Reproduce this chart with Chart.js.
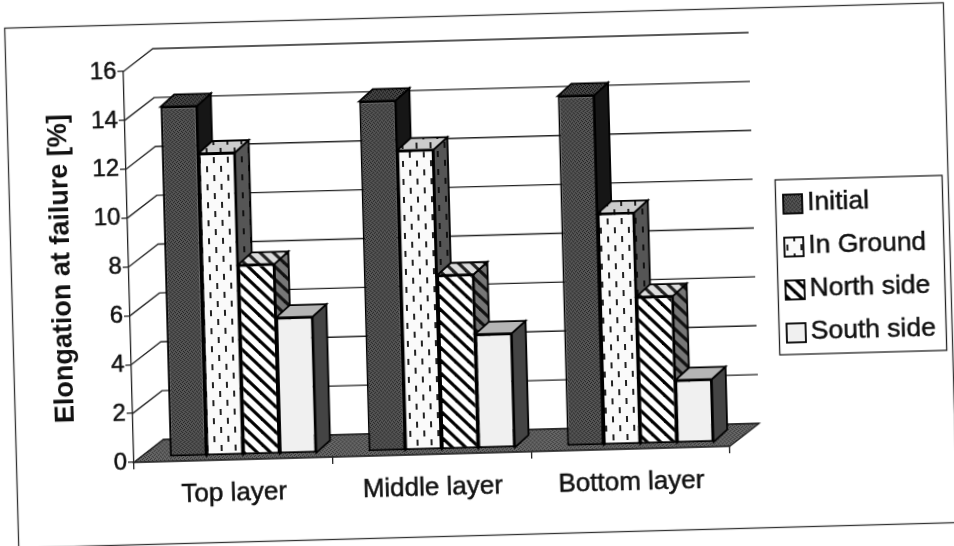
<!DOCTYPE html>
<html>
<head>
<meta charset="utf-8">
<title>Elongation at failure</title>
<script src="https://cdn.jsdelivr.net/npm/chart.js@4/dist/chart.umd.min.js"></script>
<style>
	html, body { margin: 0; background: #fff; overflow: hidden; }
	#wrap { width: 954px; height: 546px; transform: rotate(-1.55deg); transform-origin: 477px 273px; }
</style>
</head>
<body>
<div id="wrap"><canvas id="chart" width="954" height="546"></canvas></div>
<script>
const categories = ["Top layer", "Middle layer", "Bottom layer"];
const seriesNames = ["Initial", "In Ground", "North side", "South side"];
const initial = [14.35, 14.35, 14.35];
const inGround = [12.4, 12.3, 9.5];
const northSide = [7.8, 7.15, 6.05];
const southSide = [5.6, 4.7, 2.6];
const yMax = 16;
const yStep = 2;

const FONT = "'Liberation Sans', Arial, sans-serif";
const INK = "#111";
const FLOOR = { dx: 30, dy: -22 }; // depth of the floor and back wall
const BAR = { dx: 14, dy: -12, sx: 10, sy: -4 }; // bar depth and set-back from the front edge

// small tiles for the scanned fill patterns
function tile(w, h, paint) {
	const c = document.createElement("canvas");
	c.width = w;
	c.height = h;
	const g = c.getContext("2d");
	paint(g);
	return document.createElement("canvas").getContext("2d").createPattern(c, "repeat");
}

function dither(a, b) {
	return tile(4, 4, (g) => {
		g.fillStyle = a;
		g.fillRect(0, 0, 4, 4);
		g.fillStyle = b;
		[[0, 0], [2, 1], [1, 2], [3, 3]].forEach((p) => g.fillRect(p[0], p[1], 1, 1));
	});
}

function dashes(bg, ink) {
	return tile(14, 18, (g) => {
		g.fillStyle = bg;
		g.fillRect(0, 0, 14, 18);
		g.fillStyle = ink;
		g.fillRect(3, 1, 2, 6);
		g.fillRect(10, 10, 2, 6);
	});
}

function stripes(bg, ink) {
	return tile(13, 13, (g) => {
		g.fillStyle = bg;
		g.fillRect(0, 0, 13, 13);
		g.strokeStyle = ink;
		g.lineWidth = 3.2;
		for (let i = -13; i <= 13; i += 13) {
			g.beginPath();
			g.moveTo(i - 2, -2);
			g.lineTo(i + 15, 15);
			g.stroke();
		}
	});
}

const fronts = [dither("#555", "#222"), dashes("#fafafa", "#222"), stripes("#fff", "#000"), "#f0f0f0"];
const sides = ["#161616", dashes("#555", "#111"), stripes("#777", "#111"), "#444"];
const tops = [dither("#444", "#111"), dashes("#ccc", "#222"), stripes("#ddd", "#222"), "#b5b5b5"];
const floorFill = dither("#666", "#333");

function quad(ctx, pts, fill) {
	ctx.beginPath();
	pts.forEach((p, i) => (i ? ctx.lineTo(p[0], p[1]) : ctx.moveTo(p[0], p[1])));
	ctx.closePath();
	ctx.fillStyle = fill;
	ctx.fill();
	ctx.stroke();
}

const scene3d = {
	id: "scene3d",
	beforeDraw(chart) {
		// page frame
		const ctx = chart.ctx;
		ctx.save();
		ctx.strokeStyle = "#333";
		ctx.lineWidth = 1.3;
		ctx.strokeRect(11.5, 15.5, 939, 520);
		ctx.restore();
	},
	beforeDatasetsDraw(chart) {
		const ctx = chart.ctx;
		const { left, right, bottom } = chart.chartArea;
		const y = chart.scales.y;
		ctx.save();
		ctx.strokeStyle = "#222";
		ctx.lineWidth = 1.3;
		// side and back wall gridlines
		y.ticks.forEach((t) => {
			const py = y.getPixelForValue(t.value);
			ctx.beginPath();
			ctx.moveTo(left, py);
			ctx.lineTo(left + FLOOR.dx, py + FLOOR.dy);
			ctx.lineTo(right + FLOOR.dx, py + FLOOR.dy);
			ctx.stroke();
		});
		quad(ctx, [
			[left, bottom],
			[right, bottom],
			[right + FLOOR.dx, bottom + FLOOR.dy],
			[left + FLOOR.dx, bottom + FLOOR.dy],
		], floorFill);
		ctx.translate(BAR.sx, BAR.sy);
		// paint left to right so each bar's front covers the side of the one before it
		chart.data.datasets.forEach((ds, i) => {
			const meta = chart.getDatasetMeta(i);
			ctx.strokeStyle = "#000";
			ctx.lineWidth = 1.8;
			meta.data.forEach((bar) => {
				const l = bar.x - bar.width / 2;
				const r = bar.x + bar.width / 2;
				quad(ctx, [
					[r, bar.y],
					[r + BAR.dx, bar.y + BAR.dy],
					[r + BAR.dx, bar.base + BAR.dy],
					[r, bar.base],
				], sides[i]);
				quad(ctx, [
					[l, bar.y],
					[l + BAR.dx, bar.y + BAR.dy],
					[r + BAR.dx, bar.y + BAR.dy],
					[r, bar.y],
				], tops[i]);
			});
			meta.controller.draw();
		});
		ctx.restore();
		return false;
	},
	afterDraw(chart) {
		// legend box
		const ctx = chart.ctx;
		ctx.save();
		ctx.strokeStyle = "#222";
		ctx.lineWidth = 1.3;
		ctx.fillStyle = "#fff";
		ctx.fillRect(777.5, 188, 167, 175);
		ctx.strokeRect(777.5, 188, 167, 175);
		ctx.font = "26.5px " + FONT;
		ctx.textBaseline = "middle";
		chart.data.datasets.forEach((ds, i) => {
			const rowY = 212 + i * 43;
			ctx.fillStyle = ds.backgroundColor;
			ctx.strokeStyle = "#000";
			ctx.lineWidth = 1.8;
			ctx.fillRect(785, rowY - 9, 19, 19);
			ctx.strokeRect(785, rowY - 9, 19, 19);
			ctx.fillStyle = INK;
			ctx.strokeStyle = INK;
			ctx.lineWidth = 0.5;
			ctx.fillText(ds.label, 809, rowY);
			ctx.strokeText(ds.label, 809, rowY);
		});
		ctx.restore();
	},
};

const seriesValues = [initial, inGround, northSide, southSide];

new Chart(document.getElementById("chart"), {
	type: "bar",
	data: {
		labels: categories,
		datasets: seriesNames.map((name, i) => ({
			label: name,
			data: seriesValues[i],
			backgroundColor: fronts[i],
			borderColor: "#000",
			borderWidth: 2,
			borderSkipped: false,
			barPercentage: 1,
			categoryPercentage: 0.737,
		})),
	},
	options: {
		responsive: false,
		animation: false,
		layout: { padding: { left: 0, top: 62, right: 229, bottom: 0 } },
		plugins: {
			legend: { display: false },
			tooltip: { enabled: false },
		},
		scales: {
			x: {
				afterFit(scale) {
					scale.height = 93;
				},
				grid: { drawOnChartArea: false, color: "#222", tickLength: 7, lineWidth: 1.3 },
				border: { color: "#222", width: 1.3 },
				ticks: {
					color: INK,
					padding: 11,
					maxRotation: 0,
					textStrokeColor: INK,
					textStrokeWidth: 0.5,
					font: { family: FONT, size: 26 },
				},
			},
			y: {
				min: 0,
				max: yMax,
				afterFit(scale) {
					scale.width = 129;
				},
				grid: { drawOnChartArea: false, color: "#222", tickLength: 6, lineWidth: 1.3 },
				border: { color: "#222", width: 1.3 },
				ticks: {
					stepSize: yStep,
					color: INK,
					padding: 1,
					textStrokeColor: INK,
					textStrokeWidth: 0.5,
					font: { family: FONT, size: 24 },
				},
				title: {
					display: true,
					text: "Elongation at failure [%]",
					color: INK,
					padding: { top: 46 },
					font: { family: FONT, size: 27, weight: "bold" },
				},
			},
		},
	},
	plugins: [scene3d],
});
</script>
</body>
</html>
